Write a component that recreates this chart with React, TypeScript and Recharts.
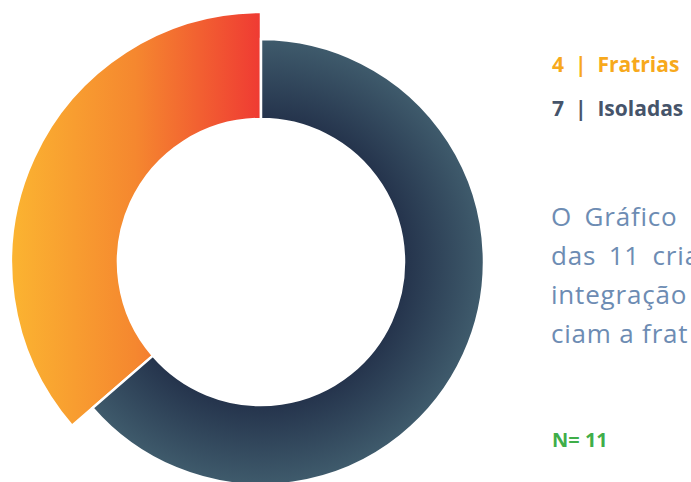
import { PieChart, Pie, Cell } from 'recharts'

const categories = ['Fratrias', 'Isoladas']
const counts = [4, 7]
const legendColors = ['#f7a91c', '#46546a']
// paragraph is cut by the right edge in the source, keep the visible part
const paragraphLines = ['O Gráfico', 'das 11 cria', 'integração', 'ciam a frat']
const sampleLabel = 'N= 11'

const data = categories.map((name, i) => ({ name, value: counts[i] }))

export default function App() {
  return (
    <div
      style={{
        position: 'fixed',
        left: 0,
        top: 0,
        width: 691,
        height: 482,
        overflow: 'hidden',
        background: '#fff',
        fontFamily: '"Open Sans", Lato, sans-serif',
      }}
    >
      <PieChart width={691} height={482} margin={{ top: 0, right: 0, bottom: 0, left: 0 }}>
        <defs>
          <linearGradient id="orangeGrad" x1="0" y1="0" x2="1" y2="0">
            <stop offset="0%" stopColor="#fbb431" />
            <stop offset="50%" stopColor="#f5872f" />
            <stop offset="100%" stopColor="#ef3a33" />
          </linearGradient>
          <radialGradient id="slateGrad" gradientUnits="userSpaceOnUse" cx={261} cy={262} r={223}>
            <stop offset="62%" stopColor="#23314a" />
            <stop offset="100%" stopColor="#3f5b6c" />
          </radialGradient>
        </defs>
        {/* outer (taller) ring carries only Fratrias */}
        <Pie
          data={data}
          dataKey="value"
          cx={261}
          cy={262}
          innerRadius={143}
          outerRadius={250}
          startAngle={90}
          endAngle={450}
          isAnimationActive={false}
        >
          <Cell fill="url(#orangeGrad)" stroke="#fff" strokeWidth={2.5} />
          <Cell fill="none" stroke="none" />
        </Pie>
        <Pie
          data={data}
          dataKey="value"
          cx={261}
          cy={262}
          innerRadius={143}
          outerRadius={223}
          startAngle={90}
          endAngle={450}
          isAnimationActive={false}
        >
          <Cell fill="none" stroke="none" />
          <Cell fill="url(#slateGrad)" stroke="#fff" strokeWidth={2.5} />
        </Pie>
      </PieChart>

      {data.map((d, i) => (
        <div
          key={d.name}
          style={{
            position: 'absolute',
            left: 552,
            top: 50 + i * 44,
            fontSize: 21,
            fontWeight: 700,
            color: legendColors[i],
            whiteSpace: 'nowrap',
          }}
        >
          {d.value}&nbsp;&nbsp;|&nbsp;&nbsp;{d.name}
        </div>
      ))}

      {paragraphLines.map((line, i) => (
        <div
          key={i}
          style={{
            position: 'absolute',
            left: 551,
            top: 201 + i * 39,
            fontSize: 26,
            lineHeight: '30px',
            letterSpacing: 0.8,
            color: '#6d8cb3',
            whiteSpace: 'nowrap',
            wordSpacing: i < 2 ? 5 : 0,
          }}
        >
          {line}
        </div>
      ))}

      <div
        style={{
          position: 'absolute',
          left: 552,
          top: 426,
          fontSize: 20,
          fontWeight: 700,
          color: '#3fae49',
        }}
      >
        {sampleLabel}
      </div>
    </div>
  )
}
